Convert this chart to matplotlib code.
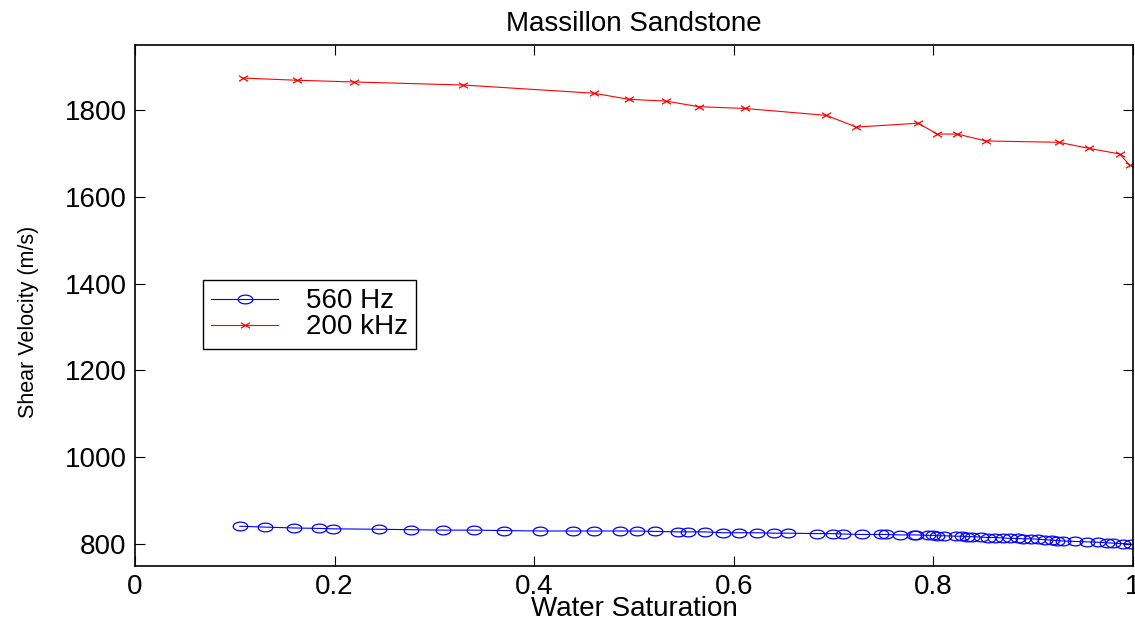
import matplotlib
matplotlib.use('Agg')
import matplotlib.pyplot as plt
import numpy as np
from matplotlib.path import Path

# 560 Hz (resonant bar) data
sat_560 = [0.105, 0.130, 0.159, 0.184, 0.198, 0.245, 0.277, 0.309, 0.340, 0.370,
           0.406, 0.439, 0.460, 0.486, 0.503, 0.521, 0.544, 0.554, 0.571, 0.589,
           0.605, 0.623, 0.640, 0.654, 0.684, 0.700, 0.710, 0.729, 0.748, 0.753,
           0.767, 0.781, 0.783, 0.795, 0.800, 0.804, 0.811, 0.823, 0.829, 0.834,
           0.839, 0.848, 0.855, 0.862, 0.870, 0.877, 0.885, 0.890, 0.898, 0.905,
           0.912, 0.919, 0.924, 0.930, 0.942, 0.954, 0.965, 0.974, 0.980, 0.990,
           0.998]
vel_560 = [841, 839, 837, 836, 835, 834, 833, 832, 832, 831,
           830, 830, 830, 830, 830, 829, 828, 828, 828, 826,
           826, 826, 825, 825, 824, 824, 823, 822, 822, 822,
           821, 821, 821, 820, 820, 819, 819, 818, 818, 817,
           817, 816, 815, 815, 814, 813, 813, 812, 812, 811,
           810, 809, 808, 807, 806, 805, 804, 803, 802, 801,
           800]

# 200 kHz (ultrasonic) data
sat_200k = [0.108, 0.162, 0.219, 0.329, 0.460, 0.495, 0.532, 0.565, 0.611, 0.693,
            0.723, 0.785, 0.804, 0.824, 0.853, 0.926, 0.956, 0.987, 0.997]
vel_200k = [1874, 1869, 1865, 1858, 1839, 1825, 1821, 1808, 1804, 1788,
            1761, 1770, 1745, 1745, 1729, 1726, 1712, 1699, 1673]

plt.rcParams['font.family'] = ['Liberation Sans', 'DejaVu Sans']

# the original is stretched sideways, so the markers are too
t = np.linspace(0, 2 * np.pi, 40)
ellipse = Path(np.column_stack([np.cos(t), 0.6 * np.sin(t)]), closed=True)
cross = Path([(-1, -0.6), (1, 0.6), (-1, 0.6), (1, -0.6)],
             [Path.MOVETO, Path.LINETO, Path.MOVETO, Path.LINETO])

fig = plt.figure(figsize=(11.35, 6.22), dpi=100)
ax = fig.add_axes([0.119, 0.0905, 0.879, 0.837])

ax.plot(sat_560, vel_560, color='blue', lw=0.8, marker=ellipse, markersize=10.5,
        markerfacecolor='none', markeredgecolor='blue', markeredgewidth=0.9, label='560 Hz')
ax.plot(sat_200k, vel_200k, color='red', lw=0.8, marker=cross, markersize=6.5,
        markeredgecolor='red', markeredgewidth=0.9, label='200 kHz')

ax.set_xlim(0, 1)
ax.set_ylim(750, 1950)
ax.set_xticks([0, 0.2, 0.4, 0.6, 0.8, 1])
ax.set_xticklabels(['0', '0.2', '0.4', '0.6', '0.8', '1'])
ax.set_yticks([800, 1000, 1200, 1400, 1600, 1800])
ax.tick_params(direction='in', top=True, right=True, length=7, width=0.8,
               labelsize=20, pad=6)
for s in ax.spines.values():
    s.set_linewidth(1.2)

ax.set_title('Massillon Sandstone', fontsize=20, pad=10)
ax.set_xlabel('Water Saturation', fontsize=20, labelpad=-3)
ax.set_ylabel('Shear Velocity (m/s)', fontsize=15.5)
ax.yaxis.set_label_coords(-0.096, 0.468)

leg = ax.legend(loc='upper left', bbox_to_anchor=(0.068, 0.549), borderaxespad=0,
                fontsize=20, fancybox=False, edgecolor='black', framealpha=1,
                handlelength=2.4, borderpad=0.3, labelspacing=0.0,
                handletextpad=1.0)
leg.get_frame().set_linewidth(1.0)

fig.savefig('out.png', dpi=100)
